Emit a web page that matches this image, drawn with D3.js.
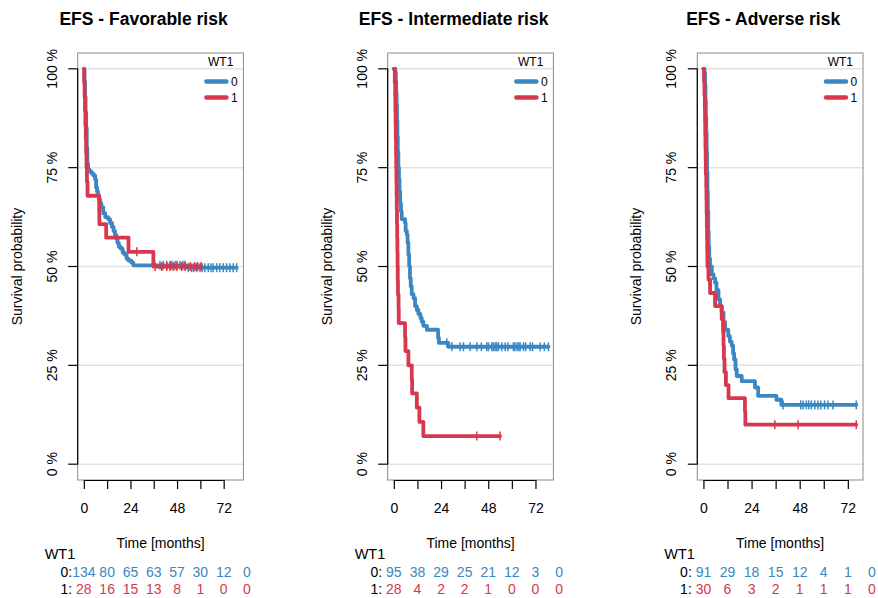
<!DOCTYPE html>
<html>
<head>
<meta charset="utf-8">
<script src="https://cdn.jsdelivr.net/npm/d3@7"></script>
<style>
  html, body { margin: 0; padding: 0; background: #fff; }
  svg { display: block; font-family: "Liberation Sans", Arial, Helvetica, sans-serif; }
</style>
</head>
<body>
<svg id="chart" width="878" height="598"></svg>
<script>
// ---------------- DATA ----------------
const panelTitles = ["EFS - Favorable risk", "EFS - Intermediate risk", "EFS - Adverse risk"];
const groupName = "WT1";
const groupLabels = ["0", "1"];
const xTickValues = [0, 12, 24, 36, 48, 60, 72];
const xTickLabelled = [0, 24, 48, 72];
const yTickValues = [0, 0.25, 0.5, 0.75, 1];
const yTickLabels = ["0 %", "25 %", "50 %", "75 %", "100 %"];
const riskTimes = [0, 12, 24, 36, 48, 60, 72, 84];
const xLabel = "Time [months]";
const yLabel = "Survival probability";

// Favorable risk
const favStepsWT0 = [[0,1],[0.3,0.97],[0.6,0.93],[0.9,0.89],[1.2,0.85],[1.5,0.80],[1.8,0.76],[2.2,0.745],[3.0,0.74],[4.0,0.735],[5.0,0.73],[5.8,0.72],[6.3,0.70],[6.8,0.69],[7.3,0.68],[7.8,0.67],[8.4,0.66],[9.0,0.65],[10.0,0.635],[11.0,0.625],[12.5,0.62],[13.5,0.61],[14.5,0.60],[15.3,0.59],[16.0,0.58],[16.7,0.57],[17.3,0.56],[18.0,0.55],[19.0,0.545],[20.0,0.535],[21.0,0.53],[22.0,0.52],[23.0,0.515],[24.5,0.51],[25.5,0.503],[53,0.497]];
const favCensorWT0 = [39.2,40.9,42.7,44.4,45.3,47,47.9,49.5,51,52.1,53.8,55.5,56.5,58.1,59.8,61,62.3,64.1,65.5,66.6,68.4,70,71.8,73.5,75.2,76.9,78.7];
const favStepsWT1 = [[0,1],[0.2,0.964],[0.4,0.929],[0.6,0.893],[0.8,0.857],[1.0,0.821],[1.2,0.786],[1.4,0.75],[1.6,0.714],[1.9,0.679],[7.9,0.643],[8.0,0.607],[11.5,0.573],[23,0.537],[35.8,0.50]];
const favCensorWT1 = [27.3,36.7,40.1,42.7,44.4,46.1,47.8,50.4,52.1,54.7,57.2,58.6,60.3];
const favRiskWT0 = [134, 80, 65, 63, 57, 30, 12, 0];
const favRiskWT1 = [28, 16, 15, 13, 8, 1, 0, 0];

// Intermediate risk
const intStepsWT0 = [[0,1],[0.8,0.99],[1.0,0.97],[1.2,0.94],[1.4,0.91],[1.6,0.87],[1.8,0.83],[2.0,0.79],[2.3,0.75],[2.6,0.72],[2.9,0.69],[3.2,0.66],[3.6,0.64],[4.0,0.62],[5.7,0.61],[6.0,0.59],[6.6,0.58],[7.0,0.56],[7.4,0.53],[7.8,0.50],[8.2,0.47],[8.6,0.45],[9.1,0.43],[10.0,0.42],[10.8,0.40],[11.7,0.39],[12.5,0.38],[13.5,0.37],[14.2,0.36],[15.0,0.35],[16.8,0.34],[22.5,0.32],[22.9,0.307],[27.7,0.297]];
const intCensorWT0 = [26.9,29.5,33.7,35.4,38.8,42.2,44.5,47.3,48.1,49.8,50.6,51.5,52.3,53.2,54.9,56.6,58,60.8,61.5,62.6,63.5,64.2,65.9,67,69.3,70.5,74.4,76.5,78.6];
const intStepsWT1 = [[0,1],[0.5,0.964],[0.7,0.929],[0.8,0.893],[0.9,0.857],[1.0,0.821],[1.1,0.786],[1.2,0.75],[1.3,0.714],[1.4,0.679],[1.5,0.643],[1.6,0.607],[1.7,0.571],[1.8,0.536],[1.9,0.50],[2.0,0.464],[2.1,0.429],[2.4,0.393],[2.5,0.357],[5.7,0.321],[5.9,0.286],[7.4,0.25],[9.1,0.214],[9.3,0.179],[11.7,0.143],[13,0.107],[15,0.071]];
const intCensorWT1 = [42.2, 54];
const intRiskWT0 = [95, 38, 29, 25, 21, 12, 3, 0];
const intRiskWT1 = [28, 4, 2, 2, 1, 0, 0, 0];

// Adverse risk
const advStepsWT0 = [[0,1],[0.5,0.99],[0.8,0.96],[1.0,0.92],[1.2,0.88],[1.4,0.84],[1.6,0.79],[1.8,0.74],[2.0,0.69],[2.2,0.64],[2.4,0.59],[2.6,0.55],[2.9,0.52],[3.3,0.50],[4.2,0.48],[5.0,0.47],[5.8,0.459],[6.5,0.44],[7.5,0.417],[8.3,0.40],[9.1,0.384],[10.0,0.36],[10.8,0.34],[12.4,0.324],[13.2,0.31],[14.1,0.30],[14.8,0.28],[15.3,0.265],[16.0,0.24],[16.6,0.223],[19.1,0.21],[25.7,0.194],[27.3,0.173],[36.4,0.163],[38.9,0.15]];
const advCensorWT0 = [39.7,48.5,49.7,51.3,52.5,53.8,55.5,57.1,58.5,60.4,62.1,64.6,76.2];
const advStepsWT1 = [[0,1],[0.3,0.967],[0.5,0.933],[0.7,0.90],[0.8,0.867],[0.9,0.833],[1.0,0.80],[1.1,0.767],[1.2,0.733],[1.4,0.70],[1.5,0.667],[1.6,0.633],[1.7,0.60],[1.8,0.567],[1.9,0.533],[2.0,0.50],[2.5,0.467],[3.3,0.433],[5.8,0.40],[9.1,0.367],[9.8,0.333],[10.0,0.30],[10.2,0.267],[10.5,0.233],[11.2,0.20],[12.5,0.167],[20.7,0.133],[20.9,0.10]];
const advCensorWT1 = [35.6, 47.2, 76.2];
const advRiskWT0 = [91, 29, 18, 15, 12, 4, 1, 0];
const advRiskWT1 = [30, 6, 3, 2, 1, 1, 1, 0];

// ---------------- LAYOUT / STYLE ----------------
const colors = ["#3a87c1", "#d7384e"];
const panels = [
  { title: panelTitles[0], xmax: 79,   left: 77.7,  steps: [favStepsWT0, favStepsWT1], censor: [favCensorWT0, favCensorWT1], risk: [favRiskWT0, favRiskWT1] },
  { title: panelTitles[1], xmax: 78,   left: 387.7, steps: [intStepsWT0, intStepsWT1], censor: [intCensorWT0, intCensorWT1], risk: [intRiskWT0, intRiskWT1] },
  { title: panelTitles[2], xmax: 76.5, left: 697.3, steps: [advStepsWT0, advStepsWT1], censor: [advCensorWT0, advCensorWT1], risk: [advRiskWT0, advRiskWT1] }
];
const boxW = 165.7, boxTop = 53, boxBottom = 480;

const svg = d3.select("#chart");

function stepValue(steps, t) {
  let v = steps[0][1];
  for (const s of steps) { if (s[0] <= t) v = s[1]; }
  return v;
}

panels.forEach(p => {
  const g = svg.append("g");
  const L = p.left, R = p.left + boxW;
  const ext = p.xmax * 0.04;
  const x = d3.scaleLinear().domain([-ext, p.xmax + ext]).range([L, R]);
  const y = d3.scaleLinear().domain([-0.04, 1.04]).range([boxBottom, boxTop]);

  // grid
  g.selectAll(".grid").data(yTickValues).join("line")
    .attr("x1", L).attr("x2", R)
    .attr("y1", d => y(d)).attr("y2", d => y(d))
    .attr("stroke", "#e2e2e2").attr("stroke-width", 1.5);

  // box
  g.append("rect").attr("x", L).attr("y", boxTop).attr("width", boxW).attr("height", boxBottom - boxTop)
    .attr("fill", "none").attr("stroke", "#8a8a8a").attr("stroke-width", 1);

  // curves
  p.steps.forEach((steps, gi) => {
    const lastT = Math.max(steps[steps.length - 1][0], d3.max(p.censor[gi]));
    const pts = steps.concat([[lastT, steps[steps.length - 1][1]]]);
    const line = d3.line().x(d => x(d[0])).y(d => y(d[1])).curve(d3.curveStepAfter);
    g.append("path").datum(pts).attr("d", line)
      .attr("fill", "none").attr("stroke", colors[gi]).attr("stroke-width", 3.8)
      .attr("stroke-linejoin", "round").attr("stroke-linecap", "round");
    g.selectAll(".cens" + gi).data(p.censor[gi]).join("line")
      .attr("x1", d => x(d)).attr("x2", d => x(d))
      .attr("y1", d => y(stepValue(steps, d)) - 4.5)
      .attr("y2", d => y(stepValue(steps, d)) + 4.5)
      .attr("stroke", colors[gi]).attr("stroke-width", 1.5);
  });

  // y axis
  g.append("line").attr("x1", L).attr("x2", L).attr("y1", y(0)).attr("y2", y(1))
    .attr("stroke", "#000").attr("stroke-width", 1.2);
  g.selectAll(".yt").data(yTickValues).join("line")
    .attr("x1", L - 9.5).attr("x2", L).attr("y1", d => y(d)).attr("y2", d => y(d))
    .attr("stroke", "#000").attr("stroke-width", 1.2);
  g.selectAll(".ytl").data(yTickValues).join("text")
    .attr("transform", d => `translate(${L - 21},${y(d)}) rotate(-90)`)
    .attr("text-anchor", "middle").attr("font-size", 14)
    .text((d, i) => yTickLabels[i]);

  // x axis
  const xAxis = d3.axisBottom(x).tickValues(xTickValues)
    .tickFormat(d => xTickLabelled.includes(d) ? d : "")
    .tickSize(9).tickPadding(14).tickSizeOuter(0);
  const ax = g.append("g").attr("transform", `translate(0,${boxBottom})`).call(xAxis);
  ax.select(".domain").attr("stroke", "#000").attr("stroke-width", 1.2)
    .attr("d", `M${x(0)},0.5H${x(72)}`);
  ax.selectAll(".tick line").attr("stroke", "#000").attr("stroke-width", 1.2);
  ax.selectAll(".tick text").attr("font-size", 14).attr("fill", "#000")
    .attr("font-family", "Liberation Sans, Arial, sans-serif");

  // labels
  g.append("text").attr("x", (L + R) / 2 - 17).attr("y", 25).attr("text-anchor", "middle")
    .attr("font-size", 17.5).attr("font-weight", "bold").text(p.title);
  g.append("text").attr("x", (L + R) / 2).attr("y", 547.5).attr("text-anchor", "middle")
    .attr("font-size", 14).text(xLabel);
  g.append("text").attr("transform", `translate(${L - 56},${(boxTop + boxBottom) / 2}) rotate(-90)`)
    .attr("text-anchor", "middle").attr("font-size", 14).text(yLabel);

  // legend
  g.append("text").attr("x", R - 10).attr("y", 65.5).attr("text-anchor", "end")
    .attr("font-size", 12).text(groupName);
  groupLabels.forEach((lab, gi) => {
    const ly = 81.5 + gi * 16;
    g.append("line").attr("x1", R - 37).attr("x2", R - 17).attr("y1", ly).attr("y2", ly)
      .attr("stroke", colors[gi]).attr("stroke-width", 4.5).attr("stroke-linecap", "round");
    g.append("text").attr("x", R - 12.5).attr("y", ly + 4.3).attr("font-size", 12).text(lab);
  });

  // risk table
  g.append("text").attr("x", L - 33).attr("y", 558.5).attr("font-size", 14.5).text(groupName);
  groupLabels.forEach((lab, gi) => {
    const ry = 577 + gi * 16.5;
    g.append("text").attr("x", L - 5.5).attr("y", ry).attr("text-anchor", "end")
      .attr("font-size", 14).text(lab + ":");
    g.selectAll(".risk" + gi).data(p.risk[gi]).join("text")
      .attr("x", (d, i) => x(riskTimes[i])).attr("y", ry)
      .attr("text-anchor", "middle").attr("font-size", 14).attr("fill", colors[gi])
      .text(d => d);
  });
});
</script>
</body>
</html>
